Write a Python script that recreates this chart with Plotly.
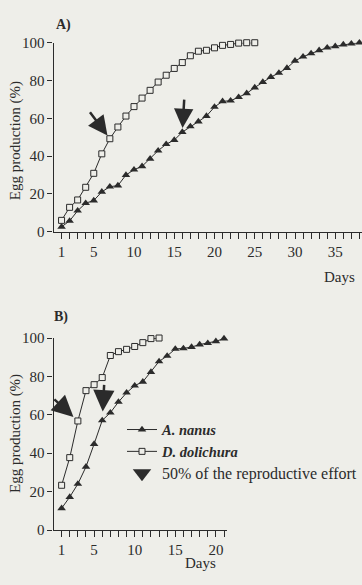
import plotly.graph_objects as go

# ---------------- data ----------------
days_a_nanus_A = list(range(1, 39))
a_nanus_A = [2.6, 5.7, 11.1, 15.1, 16.5, 21.1, 23.8, 24.4, 30.0, 32.8,
             34.6, 38.6, 42.9, 46.3, 48.5, 52.7, 55.7, 58.3, 61.2, 66.0,
             69.0, 69.3, 71.2, 73.2, 76.3, 79.2, 81.8, 84.0, 86.6, 90.4,
             92.6, 94.3, 96.0, 97.4, 98.1, 99.0, 99.5, 100.0]
days_d_doli_A = list(range(1, 26))
d_doli_A = [6.0, 12.9, 16.8, 23.5, 30.9, 41.2, 49.2, 55.4, 61.2, 66.2,
            70.7, 74.8, 79.2, 82.8, 86.4, 89.5, 93.1, 95.5, 96.0, 97.3,
            98.6, 99.1, 99.8, 100.0, 100.0]

days_a_nanus_B = list(range(1, 22))
a_nanus_B = [11.3, 17.2, 24.0, 32.9, 44.8, 57.1, 61.1, 66.7, 71.5, 75.2,
             77.2, 82.3, 87.8, 90.7, 94.3, 94.6, 95.3, 96.6, 97.3, 98.3, 99.7]
days_d_doli_B = list(range(1, 14))
d_doli_B = [23.3, 37.7, 56.8, 72.6, 75.7, 79.4, 90.9, 92.9, 94.1, 95.6,
            97.6, 99.7, 100.0]

# day of 50% reproductive effort (arrow targets)
half_A = {"D. dolichura": 7, "A. nanus": 16}
half_B = {"D. dolichura": 3, "A. nanus": 6}

x_labels_A = [1, 5, 10, 15, 20, 25, 30, 35]
x_labels_B = [1, 5, 10, 15, 20]
y_ticks = [0, 20, 40, 60, 80, 100]

# ---------------- style ----------------
BG = "#eeeee9"
INK = "#2b2b2b"
FONT = "Liberation Serif"
W, H = 362, 585

fig = go.Figure()

def add_series(x, y, xa, ya, kind, name, show):
    if kind == "tri":
        marker = dict(symbol="triangle-up", size=7.5, color=INK,
                      line=dict(width=0))
    else:
        marker = dict(symbol="square", size=6, color=BG,
                      line=dict(width=1, color=INK))
    fig.add_trace(go.Scatter(x=x, y=y, xaxis=xa, yaxis=ya, mode="lines+markers",
                             line=dict(color=INK, width=1), marker=marker,
                             name=name, showlegend=show, cliponaxis=False))

add_series(days_a_nanus_A, a_nanus_A, "x", "y", "tri", "A. nanus", False)
add_series(days_d_doli_A, d_doli_A, "x", "y", "sq", "D. dolichura", False)
add_series(days_a_nanus_B, a_nanus_B, "x2", "y2", "tri",
           "<b><i>A. nanus</i></b>", True)
add_series(days_d_doli_B, d_doli_B, "x2", "y2", "sq",
           "<b><i>D. dolichura</i></b>", True)
fig.add_trace(go.Scatter(x=[None], y=[None], xaxis="x2", yaxis="y2", mode="markers",
                         marker=dict(symbol="triangle-down", size=16, color=INK),
                         name='<span style="font-size:16px">50% of the reproductive effort</span>',
                         showlegend=True))

# ---------------- axes ----------------
def xaxis_cfg(domain, rng, ndays, labels, anchor):
    vals = list(range(1, ndays + 1))
    text = [str(v) if v in labels else "" for v in vals]
    return dict(domain=domain, range=rng, tickvals=vals, ticktext=text,
                anchor=anchor,
                ticks="outside", ticklen=6, tickwidth=1, tickcolor=INK,
                showline=True, linecolor=INK, linewidth=1.2, showgrid=False,
                zeroline=False, tickfont=dict(family=FONT, size=15, color=INK))

def yaxis_cfg(domain, anchor):
    return dict(domain=domain, range=[0, 100], tickvals=y_ticks, anchor=anchor,
                ticks="outside", ticklen=5, tickwidth=1, tickcolor=INK,
                showline=True, linecolor=INK, linewidth=1.2, showgrid=False,
                zeroline=False, tickfont=dict(family=FONT, size=15, color=INK))

x0 = 53.5 / W
fig.update_layout(
    width=W, height=H, margin=dict(l=0, r=0, t=0, b=0),
    paper_bgcolor=BG, plot_bgcolor=BG,
    xaxis=xaxis_cfg([x0, 1.0], [0, (W - 53.5) / 8.05], 40, x_labels_A, "y"),
    yaxis=yaxis_cfg([(H - 230) / H, (H - 35.7) / H], "x"),
    xaxis2=xaxis_cfg([x0, 226.7 / W], [0, (226.7 - 53.5) / 8.12], 21,
                     x_labels_B, "y2"),
    yaxis2=yaxis_cfg([(H - 536.7) / H, (H - 339.3) / H], "x2"),
    legend=dict(x=122 / W, y=(H - 417) / H, xanchor="left", yanchor="top",
                bgcolor="rgba(0,0,0,0)", tracegroupgap=0,
                font=dict(family=FONT, size=14.5, color=INK),
                itemwidth=30),
    showlegend=True,
)

# ---------------- annotations ----------------
ann = []
def arrow(x, y, xr, yr, ax, ay, standoff, size=1.55):
    ann.append(dict(x=x, y=y, xref=xr, yref=yr, ax=ax, ay=ay, showarrow=True,
                    arrowhead=2, arrowsize=size, arrowwidth=2.5,
                    arrowcolor=INK, standoff=standoff, text=""))

d = half_A["D. dolichura"]
arrow(d, d_doli_A[d - 1], "x", "y", -21, -28, 4)
d = half_A["A. nanus"]
arrow(d, a_nanus_A[d - 1], "x", "y", 2, -34, 4)
d = half_B["D. dolichura"]
arrow(d, d_doli_B[d - 1], "x2", "y2", -25, -23, 6, 1.7)
d = half_B["A. nanus"]
arrow(d, a_nanus_B[d - 1], "x2", "y2", 2, -37, 9, 1.7)

def label(text, x, y, xanchor="left", size=15, angle=0):
    ann.append(dict(text=text, x=x / W, y=(H - y) / H, xref="paper", yref="paper",
                    xanchor=xanchor, yanchor="middle", showarrow=False,
                    textangle=angle,
                    font=dict(family=FONT, size=size, color=INK)))

label("<b>A)</b>", 54, 17, size=14)
label("<b>B)</b>", 52, 318, size=14)
label("Days", 357, 277, xanchor="right")
label("Days", 218, 571, xanchor="right")
label("Egg production (%)", 15, 137, xanchor="center", angle=-90)
label("Egg production (%)", 15, 438, xanchor="center", angle=-90)

fig.update_layout(annotations=ann)
fig.write_html("out.html")
